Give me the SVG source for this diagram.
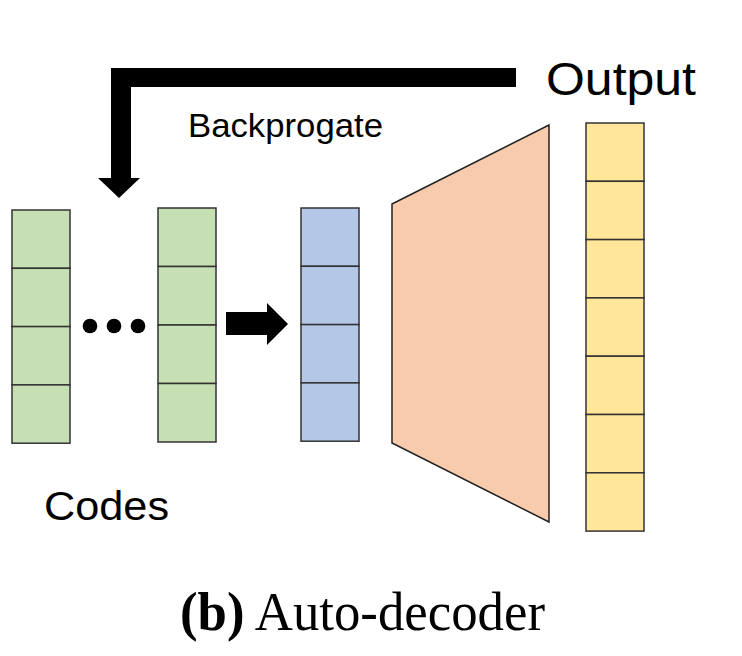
<svg xmlns="http://www.w3.org/2000/svg" width="742" height="656" viewBox="0 0 742 656">
<style>
.cell{stroke:#333;stroke-width:1.5}
.g{fill:#C6E0B4}.b{fill:#B4C7E7}.y{fill:#FFE699}
.sans{font-family:"Liberation Sans","Open Sans",sans-serif;fill:#000}
.serif{font-family:"Liberation Serif","Times New Roman",serif;fill:#000}
</style>
<rect width="742" height="656" fill="#fff"/>
<g id="codes1">
<rect class="cell g" x="12" y="210" width="58" height="58.3"/>
<rect class="cell g" x="12" y="268.3" width="58" height="58.3"/>
<rect class="cell g" x="12" y="326.6" width="58" height="58.3"/>
<rect class="cell g" x="12" y="384.9" width="58" height="58.3"/>
</g>
<g id="dots">
<circle cx="90" cy="326" r="7.3" fill="#000"/>
<circle cx="114" cy="326" r="7.3" fill="#000"/>
<circle cx="138" cy="326" r="7.3" fill="#000"/>
</g>
<g id="codes2">
<rect class="cell g" x="158" y="208" width="58" height="58.5"/>
<rect class="cell g" x="158" y="266.5" width="58" height="58.5"/>
<rect class="cell g" x="158" y="325" width="58" height="58.5"/>
<rect class="cell g" x="158" y="383.5" width="58" height="58.5"/>
</g>
<g id="latent">
<rect class="cell b" x="301" y="208" width="58" height="58.3"/>
<rect class="cell b" x="301" y="266.3" width="58" height="58.3"/>
<rect class="cell b" x="301" y="324.6" width="58" height="58.3"/>
<rect class="cell b" x="301" y="382.9" width="58" height="58.3"/>
</g>
<g id="decoder">
<polygon points="392,204 549,125 549,522 392,443" fill="#F8CBAD" stroke="#222" stroke-width="1.5"/>
</g>
<g id="output">
<rect class="cell y" x="586" y="123" width="58" height="58.3"/>
<rect class="cell y" x="586" y="181.3" width="58" height="58.3"/>
<rect class="cell y" x="586" y="239.6" width="58" height="58.3"/>
<rect class="cell y" x="586" y="297.9" width="58" height="58.3"/>
<rect class="cell y" x="586" y="356.2" width="58" height="58.3"/>
<rect class="cell y" x="586" y="414.5" width="58" height="58.3"/>
<rect class="cell y" x="586" y="472.8" width="58" height="58.3"/>
</g>
<g id="connectors">
<polygon points="516,68 516,87 131,87 131,178 140,178 119,198 98,178 111,178 111,68" fill="#000"/>
<polygon points="226,312 267,312 267,303 288,324 267,345 267,335 226,335" fill="#000"/>
</g>
<g id="labels">
<text class="sans" x="188" y="137" font-size="33" textLength="195" lengthAdjust="spacingAndGlyphs">Backprogate</text>
<text class="sans" x="546" y="95" font-size="46" textLength="150" lengthAdjust="spacingAndGlyphs">Output</text>
<text class="sans" x="44" y="520" font-size="41" textLength="125" lengthAdjust="spacingAndGlyphs">Codes</text>
<text class="serif" x="180" y="630" font-size="54" textLength="365" lengthAdjust="spacingAndGlyphs"><tspan font-weight="bold">(b)</tspan> Auto-decoder</text>
</g>
</svg>
